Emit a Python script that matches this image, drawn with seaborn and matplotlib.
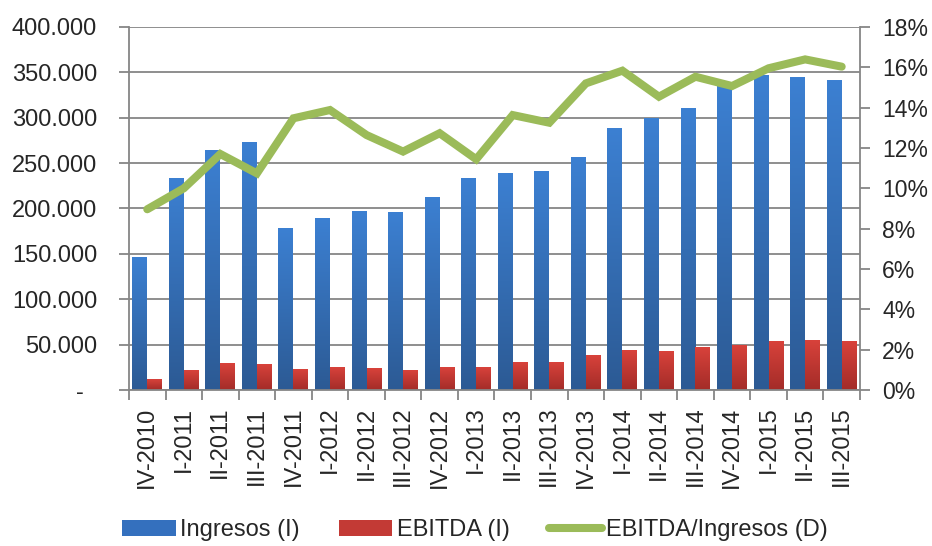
import numpy as np
import pandas as pd
import matplotlib
matplotlib.use("Agg")
import matplotlib.pyplot as plt
import seaborn as sns
from matplotlib.colors import LinearSegmentedColormap
from matplotlib.lines import Line2D
from matplotlib.patches import Patch

trimestres = ["IV-2010", "I-2011", "II-2011", "III-2011", "IV-2011", "I-2012", "II-2012",
              "III-2012", "IV-2012", "I-2013", "II-2013", "III-2013", "IV-2013", "I-2014",
              "II-2014", "III-2014", "IV-2014", "I-2015", "II-2015", "III-2015"]
ingresos = [146500, 232500, 263700, 272900, 178200, 189200, 196900, 195400, 212300, 232500,
            238000, 240600, 256400, 288000, 299400, 309600, 334000, 346000, 343800, 340500]
ebitda = [11400, 22000, 29000, 28300, 22800, 24600, 23500, 21300, 25300, 25300,
          30500, 30500, 37500, 44000, 41900, 46300, 48800, 53600, 54300, 52900]
margen = [8.96, 10.0, 11.7, 10.74, 13.47, 13.88, 12.64, 11.82, 12.73, 11.44,
          13.63, 13.25, 15.2, 15.83, 14.54, 15.53, 15.07, 15.95, 16.39, 16.03]

ticks_izq = [0, 50000, 100000, 150000, 200000, 250000, 300000, 350000, 400000]
etiquetas_izq = ["-  ", "50.000", "100.000", "150.000", "200.000", "250.000", "300.000", "350.000", "400.000"]
ticks_der = [0, 2, 4, 6, 8, 10, 12, 14, 16, 18]
etiquetas_der = ["0%", "2%", "4%", "6%", "8%", "10%", "12%", "14%", "16%", "18%"]

azul = "#3470be"
rojo = "#c33a35"
verde = "#9bbb59"
gris = "#868686"

sns.set_theme(style="ticks")
plt.rcParams["font.family"] = ["Liberation Sans", "DejaVu Sans"]
plt.rcParams["font.size"] = 17

df = pd.DataFrame({
    "trimestre": trimestres * 2,
    "valor": ingresos + ebitda,
    "serie": ["Ingresos (I)"] * len(trimestres) + ["EBITDA (I)"] * len(trimestres),
})

fig = plt.figure(figsize=(9.32, 5.46), dpi=100)
ax = fig.add_axes([0.1384, 0.2857, 0.7843, 0.665])
sns.barplot(data=df, x="trimestre", y="valor", hue="serie", palette=[azul, rojo],
            width=0.82, gap=0, saturation=1, legend=False, ax=ax)

# degradado tipo Excel en las barras
cmaps = [LinearSegmentedColormap.from_list("az", ["#2c5a94", "#3c80d2"]),
         LinearSegmentedColormap.from_list("ro", ["#a32c28", "#d8423b"])]
grad = np.linspace(1, 0, 256).reshape(-1, 1)
for cont, cmap in zip(ax.containers, cmaps):
    for p in cont.patches:
        x0, y0, w, h = p.get_x(), p.get_y(), p.get_width(), p.get_height()
        ax.imshow(grad, extent=[x0, x0 + w, y0, y0 + h], cmap=cmap, aspect="auto",
                  origin="upper", zorder=2)
        p.set_edgecolor("none")

ax.set_xlim(-0.5, len(trimestres) - 0.5)
ax.set_ylim(0, 400000)
ax.set_yticks(ticks_izq, etiquetas_izq)
ax.yaxis.grid(True, color=gris, linewidth=1.3)
ax.set_axisbelow(True)
ax.set_xlabel("")
ax.set_ylabel("")

ax.set_xticks(range(len(trimestres)), trimestres, rotation=90, va="top", ha="center")
ax.set_xticks(np.arange(-0.5, len(trimestres)), minor=True)
ax.tick_params(axis="x", which="major", length=0, pad=12, labelsize=17)
ax.tick_params(axis="x", which="minor", length=7, width=1.3, color=gris)
ax.tick_params(axis="y", length=7, width=1.3, color=gris, pad=16, labelsize=17)

for s in ["top", "right"]:
    ax.spines[s].set_visible(False)
for s in ["left", "bottom"]:
    ax.spines[s].set_color(gris)
    ax.spines[s].set_linewidth(1.3)

ax2 = ax.twinx()
sns.lineplot(x=np.arange(len(trimestres)), y=margen, ax=ax2, color=verde,
             linewidth=5.8, solid_capstyle="round", solid_joinstyle="miter")
ax2.set_ylim(0, 18)
ax2.set_yticks(ticks_der, etiquetas_der)
ax2.tick_params(axis="y", length=7, width=1.3, color=gris, pad=9, labelsize=16.5)
for s in ["top", "left", "bottom"]:
    ax2.spines[s].set_visible(False)
ax2.spines["right"].set_color(gris)
ax2.spines["right"].set_linewidth(1.3)
ax2.set_xlim(-0.5, len(trimestres) - 0.5)

handles = [Patch(facecolor=azul, edgecolor="none"),
           Patch(facecolor=rojo, edgecolor="none"),
           Line2D([0], [0], color=verde, linewidth=5.8, solid_capstyle="round")]
fig.legend(handles, ["Ingresos (I)", "EBITDA (I)", "EBITDA/Ingresos (D)"],
           loc="lower center", bbox_to_anchor=(0.51, -0.03), ncol=3, frameon=False,
           fontsize=17, handlelength=2.25, handleheight=0.64, handletextpad=0.2,
           columnspacing=1.65)

fig.savefig("out.png", dpi=100)
